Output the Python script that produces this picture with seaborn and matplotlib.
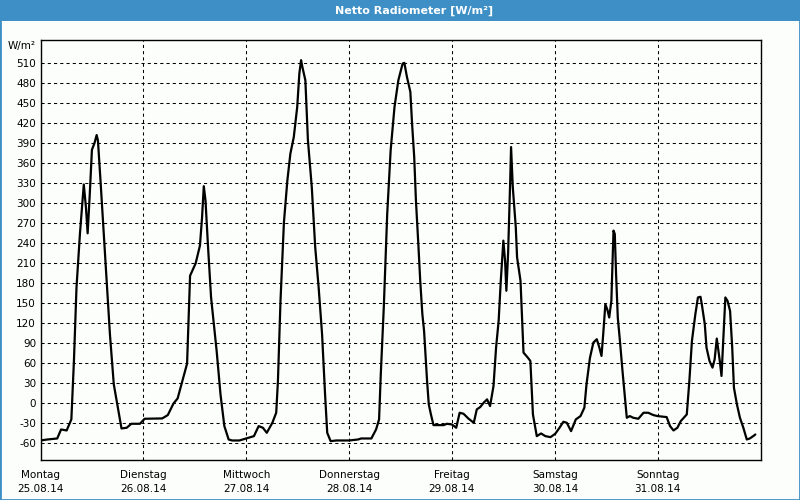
import matplotlib
matplotlib.use("Agg")
import matplotlib.pyplot as plt
import seaborn as sns
import pandas as pd
from matplotlib.patches import Rectangle
from matplotlib.transforms import blended_transform_factory

# ---- data (hours since 25.08.14 00:00, W/m²) ----
hours = [0, 1.6, 3.9, 4.8, 6.1, 7.2, 7.8, 8.4, 9.2, 10.1, 10.6, 11.0, 11.5, 12.0, 12.6, 13.1, 13.4,
         14.0, 15.1, 16.2, 17.1, 18.9, 20.1, 21.2, 23.2, 24.3, 28.4, 29.7, 31.0, 32.0, 33.1, 34.2,
         34.9, 36.2, 37.2, 37.7, 38.1, 38.5, 39.1, 39.8, 41.1, 42.0, 42.9,
         43.9, 44.7, 46.4, 48.0, 49.8, 50.9, 51.9, 52.8, 54.1, 55.0, 55.4, 56.0, 56.8, 57.6, 58.3,
         59.1, 59.9, 60.4, 60.8, 61.1, 61.8, 62.4, 63.3, 64.1, 64.9, 65.7, 66.4, 66.9, 67.7, 69.0,
         72.0, 74.1, 74.8, 77.2, 78.3, 79.0, 79.4, 80.1, 80.9, 81.7, 82.6, 83.5, 84.5, 84.9, 85.5,
         86.3, 86.7, 87.2, 87.6, 88.2, 88.6, 89.1, 89.5, 90.2, 90.6, 91.1, 91.7, 94.1, 94.8, 96.0,
         97.0, 97.8, 98.7, 99.9, 101.1, 101.8, 102.6, 103.4, 104.2, 104.9, 105.7, 106.3, 106.9,
         107.4, 108.0, 108.4, 108.7, 109.1, 109.6, 109.8, 110.2, 110.9, 111.2, 112.0, 112.7, 113.7,
         114.3, 114.9, 115.8, 116.8, 117.8, 119.0, 120.1, 121.1, 122.0, 122.8, 123.8, 124.9, 126.0,
         126.9, 127.4, 128.2, 129.0, 129.8, 130.4, 130.9, 131.3, 131.8, 132.3, 132.7, 133.2, 133.7,
         134.0, 134.3, 134.7, 135.2, 135.8, 136.3, 136.8, 137.5, 138.3, 139.5, 140.7, 141.8, 143.0,
         144.0, 146.1, 146.9, 147.7, 148.6, 149.4, 150.8, 151.4, 152.0, 152.8, 153.4, 154.0, 154.3,
         155.0, 155.4, 156.1, 156.8, 157.3, 157.8, 158.2, 158.5, 158.9, 159.3, 159.8, 160.3, 160.9,
         161.4, 161.8, 162.5, 163.2, 164.0, 164.8, 165.5, 166.3, 166.8]
values = [-55.5, -54, -52.5, -39, -40.5, -24, 63.5, 173.5, 253.5, 327.5, 293.5, 254.5, 313.5, 379.5,
          389.5, 401.5, 393.5, 333.5, 218.5, 103.5, 28.5, -37.5, -36.5, -30.5, -30.5, -23, -22.5,
          -17.5, -0.5, 7.5, 33.5, 59.5, 191, 209.5, 236, 278.5, 325, 303.5, 233.5, 158.5, 78.5,
          13.5, -34,
          -54, -55.5, -55.5, -52.5, -49, -34, -36.5, -44, -29, -14, 33.5, 153.5, 271, 333.5, 373.5,
          398.5, 443.5, 493.5, 513.5, 503.5, 483.5, 393.5, 323.5, 233.5, 173.5, 103.5, 13.5, -44,
          -56.5, -55.5, -55.5, -54, -52.5, -52.5, -39, -24, 43.5, 143.5, 283.5, 378.5, 443.5,
          483.5, 508.5, 509.5, 488.5,
          466, 418.5, 368.5, 303.5, 233.5, 183.5, 133.5, 108.5, 33.5, -1.5, -16.5, -32.5, -32.5,
          -30.5, -31.5, -36.5, -14, -15.5, -23, -29, -9, -5.5, 1, 6, -4, 26, 83.5, 123.5, 183.5,
          243.5, 213.5, 168.5, 223.5, 333.5, 383.5, 323.5, 263.5, 218.5, 183.5, 76, 68.5, 63.5,
          -16.5, -49, -45, -49, -50.5, -45.5, -36.5, -27.5, -29, -41.5, -24, -19, -6.5, 28.5, 68,
          91, 96, 83.5, 71, 103.5, 148.5, 139.5, 128.5, 153.5, 258.5, 253.5, 193.5, 128.5, 93.5,
          48.5, 13.5, -21.5, -19, -21.5, -23, -14, -14, -17.5, -19, -20.5, -34, -40.5, -36.5,
          -26.5, -16.5, 33.5, 93.5, 133.5, 158.5, 159.5, 148.5, 118.5, 83.5, 63.5, 53.5, 66, 97,
          78.5, 63.5, 41, 93.5, 158.5, 153.5, 138.5, 83.5, 23.5, -1.5, -21.5, -36.5, -54, -52.5,
          -49, -46.5]
day_names = ["Montag", "Dienstag", "Mittwoch", "Donnerstag", "Freitag", "Samstag", "Sonntag"]
dates = ["25.08.14", "26.08.14", "27.08.14", "28.08.14", "29.08.14", "30.08.14", "31.08.14"]
y_ticks = list(range(-60, 511, 30))
title = "Netto Radiometer [W/m²]"
unit = "W/m²"

df = pd.DataFrame({"hours": hours, "value": values})

sns.set_style("white")
plt.rcParams['font.family'] = ['DejaVu Sans']
plt.rcParams['text.color'] = 'black'
plt.rcParams['xtick.color'] = 'black'
plt.rcParams['ytick.color'] = 'black'
plt.rcParams['axes.labelcolor'] = 'black'

W, H = 800, 500
bg = '#fcfefc'
blue = '#3d8fc6'

fig = plt.figure(figsize=(W / 100, H / 100), dpi=100, facecolor=bg)
ax = fig.add_axes([40.5 / W, 1 - 460 / H, 720 / W, 420 / H])
ax.set_facecolor(bg)

sns.lineplot(data=df, x="hours", y="value", ax=ax, color="black", linewidth=1.6,
             estimator=None, sort=False)

ax.set_xlim(0, 168)
ax.set_ylim(-84.7, 543.7)
ax.set_xlabel("")
ax.set_ylabel("")

ax.set_xticks([24 * i for i in range(7)])
ax.set_xticklabels([])
ax.set_yticks(y_ticks)
ax.set_yticklabels([str(v) for v in y_ticks], fontsize=7.5, color="black")
ax.tick_params(axis="both", length=0)
ax.tick_params(axis="y", pad=3.2)

ax.grid(True, color="black", linestyle=(0, (3, 3)), linewidth=0.75)
ax.set_axisbelow(True)
for s in ax.spines.values():
    s.set_visible(True)
    s.set_color("black")
    s.set_linewidth(1.0)

tr = blended_transform_factory(ax.transData, fig.transFigure)
for i, (dn, dt) in enumerate(zip(day_names, dates)):
    ax.text(24 * i, 1 - 475 / H, dn, transform=tr, ha="center", va="center", fontsize=7.5,
            color="black")
    ax.text(24 * i, 1 - 489 / H, dt, transform=tr, ha="center", va="center", fontsize=7.5,
            color="black")

fig.text(36 / W, 1 - 46.5 / H, unit, ha="right", va="center", fontsize=7.5, color="black")

# title bar
fig.patches.append(Rectangle((0, 1 - 21 / H), 1, 21 / H, transform=fig.transFigure,
                             facecolor=blue, edgecolor="none", zorder=0))
fig.text(414 / W, 1 - 10.5 / H, title, color="white", fontweight="bold",
         ha="center", va="center", fontsize=8)
fig.patches.append(Rectangle((0, 0), 1, 1, transform=fig.transFigure, fill=False,
                             edgecolor=blue, linewidth=2))

fig.savefig("out.png", dpi=100, facecolor=fig.get_facecolor())
